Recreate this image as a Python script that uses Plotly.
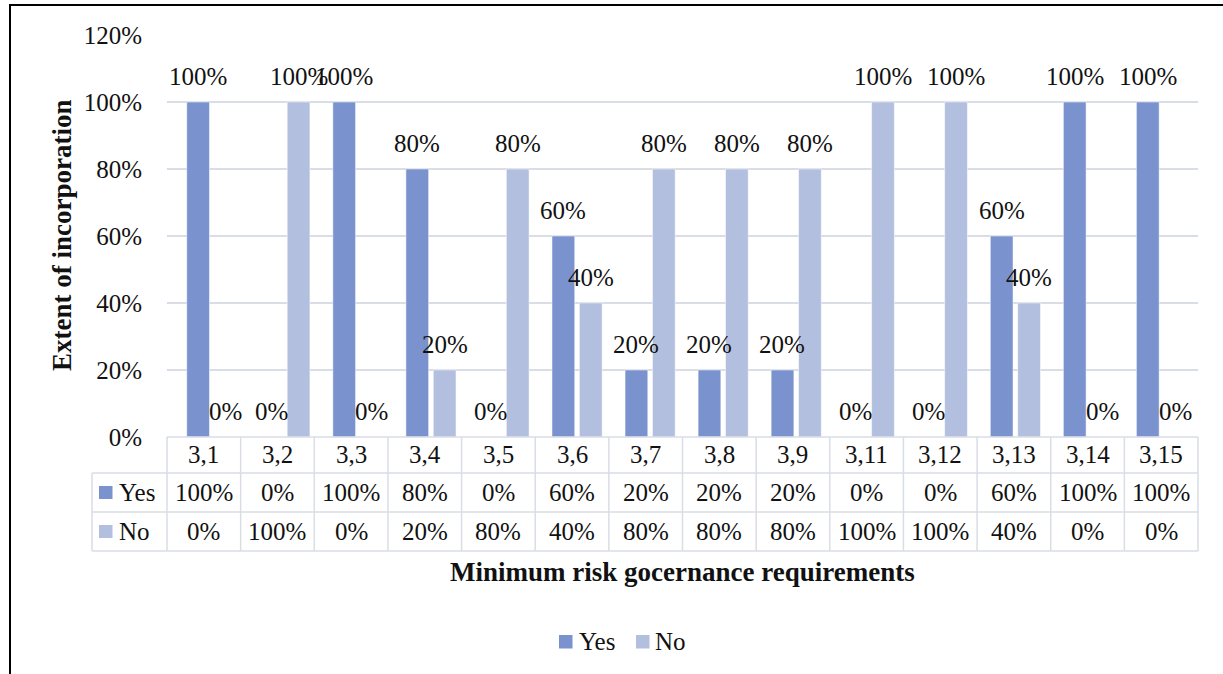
import plotly.graph_objects as go

categories = ["3,1", "3,2", "3,3", "3,4", "3,5", "3,6", "3,7", "3,8", "3,9",
              "3,11", "3,12", "3,13", "3,14", "3,15"]
yes_vals = [1.0, 0.0, 1.0, 0.8, 0.0, 0.6, 0.2, 0.2, 0.2, 0.0, 0.0, 0.6, 1.0, 1.0]
no_vals = [0.0, 1.0, 0.0, 0.2, 0.8, 0.4, 0.8, 0.8, 0.8, 1.0, 1.0, 0.4, 0.0, 0.0]
series_names = ["Yes", "No"]
y_tick_vals = [0, 0.2, 0.4, 0.6, 0.8, 1.0, 1.2]

colors = ["#7a92ce", "#b3bfdf"]
FONT = "Liberation Serif, Times New Roman, serif"
FS = 25
TFS = 27
TXT = "#111111"
GRID = "#d9dde6"

W, H = 1223, 674
L, R, T, B = 167, 25, 35, 237
PW, PH = W - L - R, H - T - B
BARGAP, BARGROUPGAP = 0.25, 0.17


def px_x(px):
    return (px - L) / PW


def px_y(py):
    return (H - B - py) / PH


series = [yes_vals, no_vals]
fig = go.Figure()
for name, vals, col in zip(series_names, series, colors):
    fig.add_trace(go.Bar(
        x=categories, y=vals, name=name,
        marker=dict(color=col, line=dict(color="white", width=0.5)),
        showlegend=False,
    ))

shapes = []
annotations = []
n = len(categories)

# data labels above bars (offset to each bar of the group)
cat_px = PW / n
slot = cat_px * (1 - BARGAP) / len(series)
for s, vals in enumerate(series):
    shift = (s - (len(series) - 1) / 2) * slot
    for c, v in zip(categories, vals):
        annotations.append(dict(text=f"{v:.0%}", x=c, y=v, xref="x", yref="y",
                                showarrow=False, xshift=shift, yshift=26,
                                xanchor="center", yanchor="middle",
                                font=dict(family=FONT, size=FS, color=TXT)))

# table geometry (pixels)
row_edges = [437, 473, 512, 551]
left_col = 92
line = dict(color=GRID, width=1.5)

for k in range(n + 1):
    shapes.append(dict(type="line", xref="paper", yref="paper",
                       x0=k / n, x1=k / n, y0=px_y(row_edges[0]), y1=px_y(row_edges[3]),
                       line=line))
shapes.append(dict(type="line", xref="paper", yref="paper",
                   x0=px_x(left_col), x1=px_x(left_col),
                   y0=px_y(row_edges[1]), y1=px_y(row_edges[3]), line=line))
shapes.append(dict(type="line", xref="paper", yref="paper", x0=0, x1=1,
                   y0=px_y(row_edges[0]), y1=px_y(row_edges[0]), line=line))
for r in row_edges[1:]:
    shapes.append(dict(type="line", xref="paper", yref="paper",
                       x0=px_x(left_col), x1=1, y0=px_y(r), y1=px_y(r), line=line))

tf = dict(family=FONT, size=FS, color=TXT)
for i, c in enumerate(categories):
    xc = (i + 0.5) / n
    annotations.append(dict(text=c, x=xc, y=px_y((row_edges[0] + row_edges[1]) / 2),
                            xref="paper", yref="paper", showarrow=False, font=tf,
                            xanchor="center", yanchor="middle"))
    for r, vals in enumerate(series):
        annotations.append(dict(text=f"{vals[i]:.0%}", x=xc,
                                y=px_y((row_edges[r + 1] + row_edges[r + 2]) / 2),
                                xref="paper", yref="paper", showarrow=False, font=tf,
                                xanchor="center", yanchor="middle"))

# legend keys inside the table
for r, (name, col) in enumerate(zip(series_names, colors)):
    yc = (row_edges[r + 1] + row_edges[r + 2]) / 2
    shapes.append(dict(type="rect", xref="paper", yref="paper",
                       x0=px_x(99), x1=px_x(112.5), y0=px_y(yc + 6.5), y1=px_y(yc - 6.5),
                       fillcolor=col, line=dict(width=0)))
    annotations.append(dict(text=name, x=px_x(117), y=px_y(yc), xref="paper", yref="paper",
                            showarrow=False, font=tf, xanchor="left", yanchor="middle"))

# bottom legend
leg_items = [(559, 577), (636, 653)]
for (sq_x, tx_x), name, col in zip(leg_items, series_names, colors):
    shapes.append(dict(type="rect", xref="paper", yref="paper",
                       x0=px_x(sq_x), x1=px_x(sq_x + 13.5), y0=px_y(648.5), y1=px_y(635),
                       fillcolor=col, line=dict(width=0)))
    annotations.append(dict(text=name, x=px_x(tx_x), y=px_y(641), xref="paper", yref="paper",
                            showarrow=False, font=tf, xanchor="left", yanchor="middle"))

# axis titles
annotations.append(dict(text="<b>Minimum risk gocernance requirements</b>",
                        x=0.5, y=px_y(572), xref="paper", yref="paper", showarrow=False,
                        font=dict(family=FONT, size=TFS, color=TXT),
                        xanchor="center", yanchor="middle"))
annotations.append(dict(text="<b>Extent of incorporation</b>",
                        x=px_x(62), y=0.5, xref="paper", yref="paper", showarrow=False,
                        textangle=-90,
                        font=dict(family=FONT, size=TFS, color=TXT),
                        xanchor="center", yanchor="middle"))

# outer border (top and left edges visible)
shapes.append(dict(type="rect", xref="paper", yref="paper",
                   x0=px_x(10), x1=px_x(1240), y0=px_y(5), y1=px_y(700),
                   line=dict(color="black", width=2), fillcolor="rgba(0,0,0,0)"))

fig.update_layout(
    width=W, height=H, autosize=False,
    margin=dict(l=L, r=R, t=T, b=B),
    paper_bgcolor="white", plot_bgcolor="white",
    barmode="group", bargap=BARGAP, bargroupgap=BARGROUPGAP,
    font=dict(family=FONT, size=FS, color=TXT),
    showlegend=False,
    xaxis=dict(type="category", showticklabels=False, showgrid=False,
               zeroline=False, showline=False, ticks=""),
    yaxis=dict(range=[0, 1.2], tickvals=y_tick_vals, tickformat=".0%",
               showgrid=True, gridcolor=GRID, gridwidth=1.5, zeroline=False,
               showline=False, ticks="", ticklabelstandoff=24,
               tickfont=dict(family=FONT, size=FS, color=TXT)),
    shapes=shapes, annotations=annotations,
)

fig.write_html("out.html")
